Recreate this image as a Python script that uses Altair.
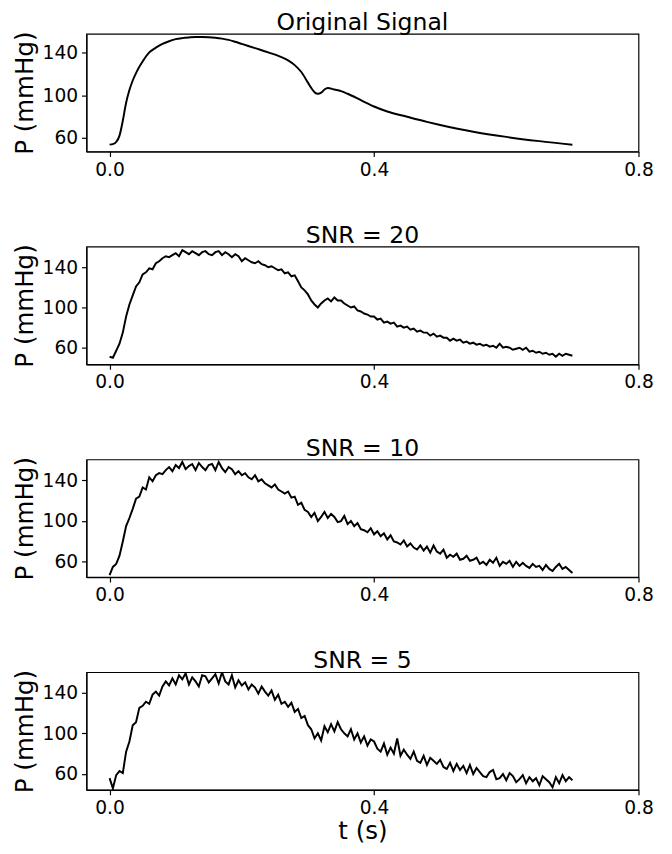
import altair as alt
import pandas as pd

# ---- data ----
t_orig = [0, 0.005, 0.01, 0.015, 0.02, 0.025, 0.03, 0.035, 0.04, 0.045, 0.05,
          0.06, 0.07, 0.08, 0.09, 0.1, 0.11, 0.12, 0.13, 0.14, 0.15,
          0.16, 0.17, 0.18, 0.19, 0.2, 0.22, 0.24, 0.26, 0.27, 0.28,
          0.29, 0.3, 0.305, 0.31, 0.315, 0.32, 0.325, 0.33, 0.34, 0.35,
          0.36, 0.38, 0.4, 0.42, 0.45, 0.48, 0.5, 0.55, 0.6, 0.65, 0.7]
p_orig = [53.5, 54, 56, 62, 76, 93, 105, 114, 121, 127, 132,
          140.5, 145, 148.5, 151, 153, 154, 154.6, 155, 155, 154.8,
          154.3, 153.5, 152.3, 150.5, 148.5, 144.5, 140.5, 136, 133, 128.5,
          122, 112, 107, 103, 101.5, 102.5, 105.5, 107, 105.5, 104,
          101.5, 95.5, 89.5, 84.8, 79.8, 75, 72.1, 65.7, 60.8, 56.8, 53.4]

t_noisy = [round(i * 0.005, 3) for i in range(141)]

p_snr20 = [51, 50, 57, 64, 75, 91, 103, 112, 121, 125,
           133, 135, 139, 138, 144, 146, 149, 151, 150, 152,
           154, 151, 157, 155, 153, 156, 154, 152, 155, 156,
           153, 152, 155, 156, 152, 155, 153, 150, 153, 151,
           146, 149, 147, 145, 144, 146, 143, 142, 140, 141,
           139, 137, 138, 134, 135, 131, 132, 126, 120, 117,
           113, 107, 103, 100, 104, 107, 109, 106, 110, 107,
           107, 104, 102, 100, 101, 97, 96, 94, 93, 91,
           91, 88, 89, 85, 86, 84, 85, 81, 82, 80,
           81, 78, 79, 76, 77, 75, 75, 72, 74, 71,
           72, 70, 70, 67, 69, 67, 68, 65, 66, 64,
           65, 63, 64, 62, 63, 61, 62, 60, 64, 60,
           61, 60, 58, 59, 60, 58, 60, 56, 57, 55,
           56, 54, 55, 53, 54, 51, 54, 52, 54, 53,
           52]

p_snr10 = [47, 55, 58, 66, 80, 95, 103, 112, 122, 124,
           133, 131, 143, 139, 145, 147, 146, 150, 153, 149,
           155, 152, 158, 151, 154, 156, 150, 157, 153, 150,
           155, 156, 150, 158, 152, 148, 153, 151, 146, 149,
           145, 147, 143, 141, 145, 139, 141, 137, 135, 133,
           136, 131, 129, 127, 129, 123, 124, 116, 118, 111,
           109, 104, 108, 100, 104, 109, 103, 107, 104, 99,
           100, 105, 97, 100, 95, 98, 92, 91, 89, 93,
           87, 90, 85, 88, 82, 86, 80, 79, 77, 81,
           75, 78, 74, 72, 76, 71, 75, 69, 76, 70,
           68, 72, 64, 67, 65, 68, 62, 63, 66, 61,
           62, 64, 58, 60, 57, 62, 59, 64, 56, 60,
           58, 61, 55, 60, 56, 59, 56, 54, 58, 55,
           56, 52, 57, 53, 51, 55, 58, 53, 55, 52,
           49]

p_snr5 = [56, 46, 59, 63, 61, 82, 92, 108, 111, 125,
          127, 131, 129, 138, 141, 137, 146, 151, 147, 154,
          148, 157, 153, 159, 148, 155, 151, 146, 157, 156,
          150, 154, 158, 149, 160, 151, 148, 157, 145, 152,
          147, 150, 143, 148, 145, 139, 146, 141, 137, 142,
          133, 138, 129, 131, 126, 130, 121, 124, 115, 117,
          108, 104, 95, 100, 93, 107, 101, 109, 102, 111,
          104, 100, 97, 104, 94, 100, 91, 97, 88, 94,
          92, 85, 82, 90, 79, 86, 80, 95, 78, 84,
          79, 75, 82, 73, 71, 78, 69, 76, 73, 70,
          74, 67, 65, 71, 63, 70, 64, 68, 61, 69,
          60, 66, 62, 58, 57, 62, 64, 55, 56, 60,
          54, 61, 58, 52, 55, 59, 51, 57, 53, 56,
          49, 58, 55, 52, 47, 57, 51, 59, 53, 57,
          54]

titles = ["Original Signal", "SNR = 20", "SNR = 10", "SNR = 5"]
y_domains = [[47, 158], [43.5, 160.5], [45, 160.5], [44.5, 160]]
x_domain = [-0.035, 0.8]
x_ticks = [0.0, 0.4, 0.8]
y_ticks = [60, 100, 140]

series = [(t_orig, p_orig), (t_noisy, p_snr20), (t_noisy, p_snr10), (t_noisy, p_snr5)]

FONT = "DejaVu Sans"
panels = []
for i, ((tt, pp), ttl, yd) in enumerate(zip(series, titles, y_domains)):
    df = pd.DataFrame({"t": tt, "P": pp})
    last = i == len(series) - 1
    if last:
        xaxis = alt.Axis(values=x_ticks, format=".1f", title="t (s)", grid=False,
                         labelFlush=False)
    else:
        xaxis = alt.Axis(values=x_ticks, format=".1f", title=None, grid=False,
                         labelFlush=False)
    ch = alt.Chart(df).mark_line(
        color="black", strokeWidth=2, clip=True,
        interpolate="monotone" if i == 0 else "linear",
    ).encode(
        x=alt.X("t:Q", scale=alt.Scale(domain=x_domain, nice=False, zero=False), axis=xaxis),
        y=alt.Y("P:Q", scale=alt.Scale(domain=yd, nice=False, zero=False),
                axis=alt.Axis(values=y_ticks, title="P (mmHg)", grid=False)),
    ).properties(
        width=563, height=120,
        title=alt.TitleParams(ttl, fontSize=24, font=FONT, fontWeight="normal",
                              color="black", offset=-4),
    )
    panels.append(ch)

chart = alt.vconcat(*panels, spacing=44).properties(
    padding={"left": 4, "top": -6, "right": 10, "bottom": 0}
).configure_view(
    stroke="black", strokeWidth=1.2
).configure_axis(
    labelFont=FONT, titleFont=FONT, labelFontSize=19, titleFontSize=25,
    labelColor="black", titleColor="black", titleFontWeight="normal",
    domainColor="black", tickColor="black", tickSize=5, labelPadding=4,
    domainWidth=1.2, tickWidth=1.2,
).configure_axisY(
    titlePadding=5
).configure_axisX(
    titlePadding=2
)

chart.save("out.html", embed_options={"renderer": "svg", "actions": False})
